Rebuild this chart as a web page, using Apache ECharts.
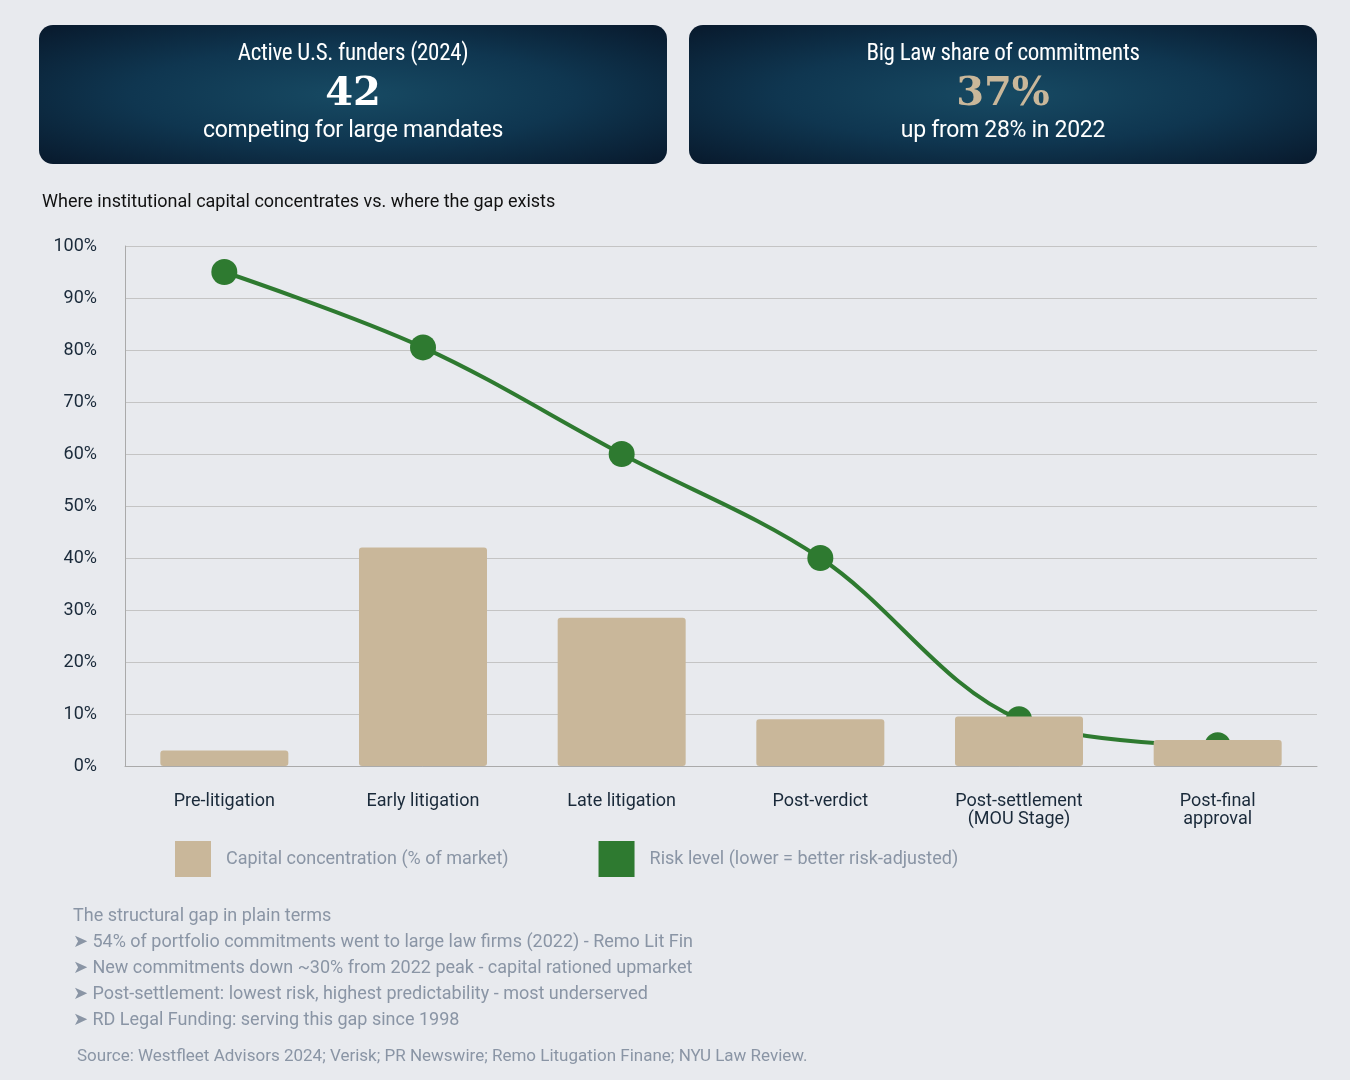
<!DOCTYPE html>
<html>
<head>
<meta charset="utf-8">
<script src="https://cdn.jsdelivr.net/npm/echarts@6/dist/echarts.min.js"></script>
<style>
  body { margin: 0; background: #e8eaee; font-family: Roboto, sans-serif; }
  #wrap { position: relative; width: 1350px; height: 1080px; }
  #chart { position: absolute; left: 0; top: 0; width: 1350px; height: 1080px; }
  .card { position: absolute; top: 25px; width: 628px; height: 139px; border-radius: 14px;
    background: radial-gradient(ellipse at center, #174a63 0%, #0f3650 50%, #08192c 100%);
    color: #fff; text-align: center; }
  .card .t { margin-top: 14px; font-size: 23px; font-family: "Roboto Condensed", Roboto, sans-serif; letter-spacing: -0.3px; }
  .card .n { font-family: "DejaVu Serif", serif; font-weight: bold; font-size: 40px; line-height: 46px; margin-top: 2px; }
  .card .s { font-size: 23px; margin-top: 2px; letter-spacing: -0.3px; }
</style>
</head>
<body>
<div id="wrap">
  <div id="chart"></div>
  <div class="card" style="left:39px"><div class="t">Active U.S. funders (2024)</div><div class="n">42</div><div class="s">competing for large mandates</div></div>
  <div class="card" style="left:689px"><div class="t">Big Law share of commitments</div><div class="n" style="color:#c9b79a">37%</div><div class="s">up from 28% in 2022</div></div>
</div>
<script>
const stages = ['Pre-litigation', 'Early litigation', 'Late litigation', 'Post-verdict', 'Post-settlement\n(MOU Stage)', 'Post-final\napproval'];
const capital = [3, 42, 28.5, 9, 9.5, 5];
const risk = [95, 80.5, 60, 40, 9, 4];
const notes = [
    'The structural gap in plain terms',
    '➤ 54% of portfolio commitments went to large law firms (2022) - Remo Lit Fin',
    '➤ New commitments down ~30% from 2022 peak - capital rationed upmarket',
    '➤ Post-settlement: lowest risk, highest predictability - most underserved',
    '➤ RD Legal Funding: serving this gap since 1998'
];
const source = 'Source: Westfleet Advisors 2024; Verisk; PR Newswire; Remo Litugation Finane; NYU Law Review.';

const textColor = '#1a2a3a';
const softColor = '#8a95a5';
const chart = echarts.init(document.getElementById('chart'));
chart.setOption({
    animation: false,
    textStyle: { fontFamily: 'Roboto, sans-serif' },
    title: [
        { text: 'Where institutional capital concentrates vs. where the gap exists', left: 37, top: 188,
          textStyle: { fontSize: 18, fontWeight: 'normal', color: '#111' } },
        { text: notes.join('\n'), left: 68, top: 898,
          textStyle: { fontSize: 18, fontWeight: 'normal', color: softColor, lineHeight: 26 } },
        { text: source, left: 72, top: 1043,
          textStyle: { fontSize: 17, fontWeight: 'normal', color: softColor } }
    ],
    grid: { left: 125, right: 33, top: 246, bottom: 314 },
    legend: {
        left: 170, top: 836, itemWidth: 36, itemHeight: 36, itemGap: 90, icon: 'rect',
        textStyle: { fontSize: 18, color: softColor, padding: [0, 0, 0, 10] },
        data: ['Capital concentration (% of market)', 'Risk level (lower = better risk-adjusted)']
    },
    xAxis: {
        type: 'category', data: stages,
        axisLine: { lineStyle: { color: '#aaa' } }, axisTick: { show: false },
        axisLabel: { fontSize: 18, color: textColor, margin: 26, lineHeight: 18 }
    },
    yAxis: {
        type: 'value', min: 0, max: 100, interval: 10,
        axisLine: { show: true, lineStyle: { color: '#aaa' } },
        axisLabel: { formatter: '{value}%', fontSize: 18, color: textColor, margin: 28 },
        splitLine: { lineStyle: { color: '#c4c4c4', width: 1.2 } }
    },
    series: [
        {
            name: 'Risk level (lower = better risk-adjusted)', type: 'line', data: risk, smooth: 0.35,
            symbol: 'circle', symbolSize: 26, z: 2,
            itemStyle: { color: '#2e7a30' }, lineStyle: { color: '#2e7a30', width: 4 }
        },
        {
            name: 'Capital concentration (% of market)', type: 'bar', data: capital, barWidth: 128, z: 3,
            itemStyle: { color: '#c9b79a', borderRadius: 3 }
        }
    ]
});
</script>
</body>
</html>
